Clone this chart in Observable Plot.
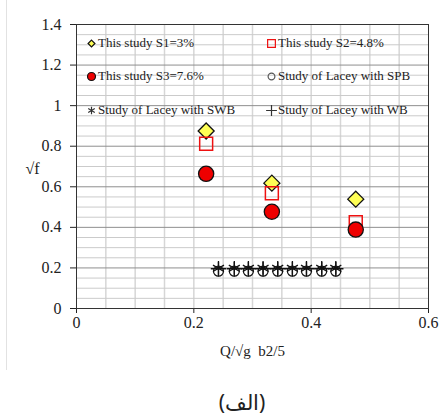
<!DOCTYPE html>
<html><head><meta charset="utf-8">
<script src="https://cdn.jsdelivr.net/npm/d3@7"></script>
<script src="https://cdn.jsdelivr.net/npm/@observablehq/plot@0.6"></script>
<style>
body{margin:0;background:#fff;}
#wrap{position:relative;width:441px;height:419px;overflow:hidden;}
#edge{position:absolute;left:6px;top:0;width:1px;height:370px;background:#e2e2e2;}
#chart{position:absolute;left:0;top:0;}
#chart svg, #chart svg text{font-family:"Liberation Serif","Times New Roman",serif !important;}
.leg{position:absolute;font-family:"Liberation Serif","Times New Roman",serif;font-size:13px;color:#222;white-space:nowrap;display:flex;align-items:center;height:16px;}
.leg svg{margin-right:1px;}
#cap{position:absolute;top:388px;left:202px;width:80px;line-height:28px;text-align:center;font-family:"Noto Sans";font-size:21px;color:#222;}
</style></head><body>
<div id="wrap"><div id="edge"></div><div id="chart"></div><div id="legend"></div><div id="cap">(الف)</div></div>
<script>
// ---- data ----
const studyX = [0.221, 0.333, 0.476];
const s1Y = [0.875, 0.618, 0.539];
const s2Y = [0.812, 0.568, 0.425];
const s3Y = [0.664, 0.477, 0.389];
const laceyX = [0.242, 0.269, 0.293, 0.318, 0.343, 0.368, 0.392, 0.418, 0.442];
const spbY = [0.184, 0.184, 0.184, 0.184, 0.184, 0.184, 0.184, 0.184, 0.184];
const swbY = [0.198, 0.198, 0.198, 0.198, 0.198, 0.198, 0.198, 0.198, 0.198];
const wbY  = [0.196, 0.196, 0.196, 0.196, 0.196, 0.196, 0.196, 0.196, 0.196];
const xTicks = [0, 0.2, 0.4, 0.6];
const yTicks = [0, 0.2, 0.4, 0.6, 0.8, 1, 1.2, 1.4];
const xGrid = [0.05, 0.1, 0.15, 0.2, 0.25, 0.3, 0.35, 0.4, 0.45, 0.5, 0.55];
const yMinor = [0.05,0.1,0.15,0.25,0.3,0.35,0.45,0.5,0.55,0.65,0.7,0.75,0.85,0.9,0.95,1.05,1.1,1.15,1.25,1.3,1.35];
const yMajor = [0.2, 0.4, 0.6, 0.8, 1, 1.2];
const legendLabels = ["This study S1=3%","This study S2=4.8%","This study S3=7.6%","Study of Lacey with SPB","Study of Lacey with SWB","Study of Lacey with WB"];
const xLabel = "Q/√g\u00a0 b2/5";
const yLabel = "√f";

const pts = (xs, ys) => xs.map((x, i) => ({x, y: ys[i]}));

const plot = Plot.plot({
  width: 441, height: 370,
  marginLeft: 76, marginRight: 13, marginTop: 24, marginBottom: 62,
  style: {fontFamily: "'Liberation Serif', 'Times New Roman', serif", fontSize: "16px", color: "#222", background: "transparent"},
  x: {domain: [0, 0.6], ticks: xTicks, tickSize: 5, tickPadding: 3, label: null, tickFormat: d => String(d)},
  y: {domain: [0, 1.4], ticks: yTicks, tickSize: 6, tickPadding: 9, label: null, tickFormat: d => String(d)},
  marks: [
    Plot.ruleX(xGrid, {stroke: "#d6d6d6", strokeWidth: 1.5}),
    Plot.ruleY(yMinor, {stroke: "#cbcbcb"}),
    Plot.ruleY(yMajor, {stroke: "#8e8e8e"}),
    Plot.frame({stroke: "#333"}),
    Plot.dot(pts(laceyX, spbY), {x: "x", y: "y", r: 5, stroke: "#111", strokeWidth: 1.2, fill: "none"}),
    Plot.dot(pts(laceyX, swbY), {x: "x", y: "y", symbol: "asterisk", r: 6, stroke: "#111", strokeWidth: 1.3}),
    Plot.dot(pts(laceyX, wbY), {x: "x", y: "y", symbol: "plus", r: 5, stroke: "#111", strokeWidth: 1.3}),
    Plot.dot(pts(studyX, s1Y), {x: "x", y: "y", symbol: "diamond2", r: 7.2, fill: "#ffff55", stroke: "#111", strokeWidth: 1.3}),
    Plot.dot(pts(studyX, s2Y), {x: "x", y: "y", symbol: "square", r: 7.3, fill: "none", stroke: "#ee1111", strokeWidth: 1.5}),
    Plot.dot(pts(studyX, s3Y), {x: "x", y: "y", r: 7.6, fill: "#ee0000", stroke: "#111", strokeWidth: 1.3}),
    Plot.text([xLabel], {frameAnchor: "bottom", dy: 47, fontSize: 15, fill: "#222"}),
    Plot.text([yLabel], {frameAnchor: "left", dx: -51, dy: 2, fontSize: 16, fill: "#222"})
  ]
});
document.getElementById("chart").append(plot);

// ---- legend overlay ----
const colLeft = [86, 266];
const rowMid = [43, 76, 110];
const symDefs = [
  {type: d3.symbolDiamond2, size: 30, fill: "#ffff55", stroke: "#111"},
  {type: d3.symbolSquare, size: 60, fill: "none", stroke: "#ee1111"},
  {type: d3.symbolCircle, size: 50, fill: "#ee0000", stroke: "#111"},
  {type: d3.symbolCircle, size: 36, fill: "none", stroke: "#555"},
  {type: d3.symbolAsterisk, size: 40, fill: "none", stroke: "#333"},
  {type: d3.symbolPlus, size: 40, fill: "none", stroke: "#333"}
];
const legend = document.getElementById("legend");
legendLabels.forEach((lab, i) => {
  const col = i % 2, row = Math.floor(i / 2);
  const div = document.createElement("div");
  div.className = "leg";
  div.style.left = colLeft[col] + "px";
  div.style.top = (rowMid[row] - 8) + "px";
  const s = symDefs[i];
  const path = d3.symbol(s.type, s.size)();
  div.innerHTML = `<svg width="11" height="11" viewBox="-5.5 -5.5 11 11"><path d="${path}" fill="${s.fill}" stroke="${s.stroke}" stroke-width="1.2"/></svg><span>${lab}</span>`;
  legend.append(div);
});
</script>
</body></html>
